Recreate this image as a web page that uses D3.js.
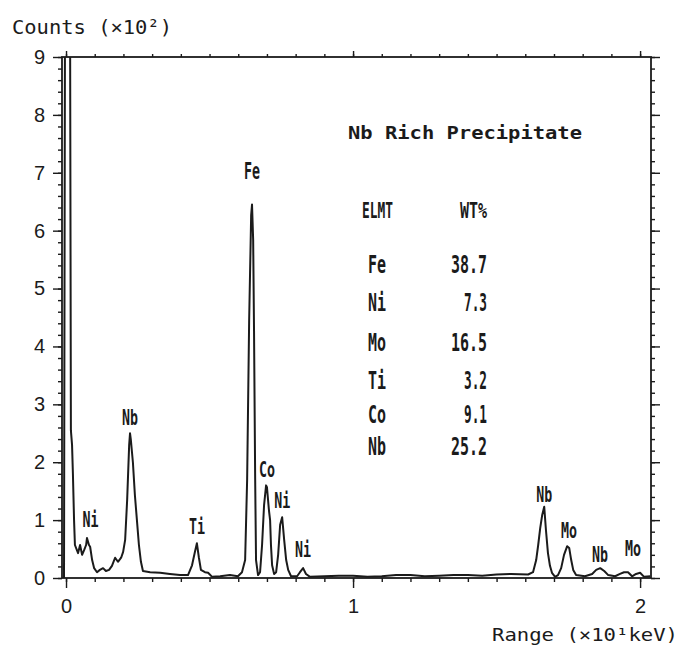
<!DOCTYPE html>
<html>
<head>
<meta charset="utf-8">
<script src="https://cdn.jsdelivr.net/npm/d3@7"></script>
<style>
  html, body { margin: 0; padding: 0; background: #fff; }
  svg { display: block; }
</style>
</head>
<body>
<svg id="chart" width="681" height="646"></svg>
<script>
// ---- Data (energy in ×10 keV, counts in ×10²) ----
const energy = [
  -0.007, -0.0035, 0.014, 0.017, 0.021, 0.024, 0.028, 0.031, 0.038, 0.042,
  0.049, 0.056, 0.063, 0.070, 0.073, 0.080, 0.084, 0.091, 0.098, 0.108,
  0.118, 0.129, 0.139, 0.150, 0.160, 0.171, 0.181, 0.192, 0.199, 0.206,
  0.213, 0.220, 0.223, 0.226, 0.233, 0.240, 0.247, 0.254, 0.261, 0.268,
  0.293, 0.328, 0.362, 0.397, 0.425, 0.439, 0.449, 0.456, 0.463, 0.470,
  0.484, 0.495, 0.509, 0.537, 0.571, 0.599, 0.613, 0.624, 0.631, 0.638,
  0.645, 0.648, 0.652, 0.655, 0.659, 0.662, 0.669, 0.676, 0.683, 0.690,
  0.697, 0.700, 0.707, 0.711, 0.714, 0.718, 0.725, 0.732, 0.739, 0.746,
  0.753, 0.760, 0.767, 0.774, 0.784, 0.805, 0.815, 0.826, 0.836, 0.850,
  0.900, 0.950, 1.000, 1.050, 1.100, 1.150, 1.200, 1.250, 1.300, 1.350,
  1.400, 1.450, 1.500, 1.550, 1.610, 1.627, 1.638, 1.645, 1.652, 1.659,
  1.666, 1.672, 1.679, 1.686, 1.693, 1.704, 1.714, 1.725, 1.735, 1.746,
  1.753, 1.760, 1.767, 1.777, 1.808, 1.833, 1.847, 1.861, 1.875, 1.889,
  1.913, 1.930, 1.944, 1.958, 1.972, 1.986, 2.000, 2.014, 2.035
];
const counts = [
  0.00, 10.0, 10.0, 2.55, 2.30, 1.80, 1.00, 0.57, 0.48, 0.43,
  0.57, 0.40, 0.48, 0.57, 0.69, 0.57, 0.54, 0.31, 0.17, 0.10,
  0.14, 0.17, 0.12, 0.14, 0.21, 0.35, 0.28, 0.35, 0.45, 0.66,
  1.35, 2.30, 2.50, 2.38, 2.00, 1.43, 1.00, 0.57, 0.28, 0.12,
  0.10, 0.09, 0.07, 0.05, 0.05, 0.22, 0.45, 0.60, 0.35, 0.14,
  0.10, 0.09, 0.02, 0.03, 0.05, 0.03, 0.10, 0.31, 1.70, 4.45,
  6.27, 6.45, 5.84, 4.28, 1.70, 0.31, 0.05, 0.10, 0.57, 1.26,
  1.60, 1.57, 1.17, 1.00, 0.57, 0.22, 0.07, 0.10, 0.40, 0.92,
  1.05, 0.66, 0.31, 0.14, 0.03, 0.03, 0.10, 0.17, 0.07, 0.02,
  0.03, 0.04, 0.04, 0.02, 0.03, 0.05, 0.05, 0.03, 0.04, 0.05,
  0.05, 0.04, 0.06, 0.07, 0.06, 0.10, 0.31, 0.57, 0.86, 1.09,
  1.23, 0.83, 0.43, 0.21, 0.09, 0.02, 0.05, 0.17, 0.40, 0.55,
  0.52, 0.31, 0.14, 0.05, 0.03, 0.07, 0.14, 0.17, 0.12, 0.05,
  0.03, 0.07, 0.10, 0.10, 0.03, 0.07, 0.09, 0.02, 0.03
];

// Peak labels
const peakNames  = ["Ni", "Nb", "Ti", "Fe", "Co", "Ni", "Ni", "Nb", "Mo", "Nb", "Mo"];
const peakEnergy = [0.085, 0.223, 0.456, 0.648, 0.700, 0.753, 0.826, 1.666, 1.752, 1.860, 1.975];
const peakLabelY = [0.88, 2.65, 0.76, 6.90, 1.75, 1.21, 0.36, 1.32, 0.69, 0.28, 0.38];

// Composition table
const tableTitle = "Nb Rich Precipitate";
const elements = ["Fe", "Ni", "Mo", "Ti", "Co", "Nb"];
const wtPercent = ["38.7", "7.3", "16.5", "3.2", "9.1", "25.2"];

// Axis ticks
const yTickLabels = [0, 1, 2, 3, 4, 5, 6, 7, 8, 9];
const xTickLabels = [0, 1, 2];

// ---- Layout ----
const svg = d3.select("#chart");
const ink = "#1b1b1b";
const L = 62, R = 651, T = 57, B = 578;

const x = d3.scaleLinear().domain([-0.014, 2.038]).range([L, R]);
const y = d3.scaleLinear().domain([0, 9]).range([B, T]);

svg.append("defs").append("clipPath").attr("id", "plotclip")
  .append("rect").attr("x", L).attr("y", T).attr("width", R - L).attr("height", B - T);

const minorY = d3.range(0, 9.001, 0.2).map(v => +v.toFixed(1));
const minorX = d3.range(0, 2.0001, 0.1).map(v => +v.toFixed(1));

function styleAxis(g) {
  g.selectAll("path.domain").remove();
  g.selectAll("line").attr("stroke", ink).attr("stroke-width", 1.4);
}

// Left axis
svg.append("g").attr("transform", `translate(${L},0)`)
  .call(d3.axisLeft(y).tickValues(minorY).tickSize(4).tickFormat(""))
  .call(styleAxis);
const leftMajor = svg.append("g").attr("transform", `translate(${L},0)`)
  .call(d3.axisLeft(y).tickValues(yTickLabels).tickSize(9).tickPadding(8).tickFormat(d3.format("d")))
  .call(styleAxis);
leftMajor.selectAll("text")
  .attr("fill", ink).attr("font-family", "'Liberation Sans', Arial, sans-serif")
  .attr("font-size", 20);

// Right axis
svg.append("g").attr("transform", `translate(${R},0)`)
  .call(d3.axisRight(y).tickValues(minorY).tickSize(4).tickFormat(""))
  .call(styleAxis);
svg.append("g").attr("transform", `translate(${R},0)`)
  .call(d3.axisRight(y).tickValues(yTickLabels).tickSize(9).tickFormat(""))
  .call(styleAxis);

// Bottom axis
svg.append("g").attr("transform", `translate(0,${B})`)
  .call(d3.axisBottom(x).tickValues(minorX).tickSize(4).tickFormat(""))
  .call(styleAxis);
const bottomMajor = svg.append("g").attr("transform", `translate(0,${B})`)
  .call(d3.axisBottom(x).tickValues(xTickLabels).tickSize(10).tickPadding(11).tickFormat(d3.format("d")))
  .call(styleAxis);
bottomMajor.selectAll("text")
  .attr("fill", ink).attr("font-family", "'Liberation Sans', Arial, sans-serif")
  .attr("font-size", 20);

// Top axis
svg.append("g").attr("transform", `translate(0,${T})`)
  .call(d3.axisTop(x).tickValues(minorX).tickSize(3).tickFormat(""))
  .call(styleAxis);
svg.append("g").attr("transform", `translate(0,${T})`)
  .call(d3.axisTop(x).tickValues(xTickLabels).tickSize(6).tickFormat(""))
  .call(styleAxis);

// Frame
svg.append("rect").attr("x", L).attr("y", T).attr("width", R - L).attr("height", B - T)
  .attr("fill", "none").attr("stroke", ink).attr("stroke-width", 1.8);

// Spectrum
const pts = energy.map((e, i) => [e, counts[i]]);
svg.append("path")
  .attr("clip-path", "url(#plotclip)")
  .attr("d", d3.line().x(d => x(d[0])).y(d => y(d[1]))(pts))
  .attr("fill", "none").attr("stroke", ink).attr("stroke-width", 2)
  .attr("stroke-linejoin", "round");

// Condensed label helper
function condensed(sel, txt, w, size) {
  sel.text(txt)
    .attr("font-family", "'DejaVu Sans Mono', monospace")
    .attr("font-weight", "bold")
    .attr("font-size", size)
    .attr("fill", ink)
    .attr("textLength", w)
    .attr("lengthAdjust", "spacingAndGlyphs");
}

// Peak labels
peakNames.forEach((n, i) => {
  const t = svg.append("text")
    .attr("x", x(peakEnergy[i]))
    .attr("y", y(peakLabelY[i]))
    .attr("text-anchor", "middle");
  condensed(t, n, 16, n === "Fe" ? 23 : 21);
});

// Title
svg.append("text")
  .attr("x", 348).attr("y", 139)
  .attr("font-family", "'DejaVu Sans Mono', monospace")
  .attr("font-weight", "bold").attr("font-size", 17).attr("fill", ink)
  .attr("textLength", 234).attr("lengthAdjust", "spacingAndGlyphs")
  .text(tableTitle);

// Table headers
condensed(svg.append("text").attr("x", 362).attr("y", 218), "ELMT", 31, 22);
condensed(svg.append("text").attr("x", 487).attr("y", 218).attr("text-anchor", "end"), "WT%", 27, 22);

const rowY = [273, 311, 351, 389, 423, 455];
elements.forEach((el, i) => {
  condensed(svg.append("text").attr("x", 368).attr("y", rowY[i]), el, 18, 25);
  const v = wtPercent[i];
  condensed(svg.append("text").attr("x", 487).attr("y", rowY[i]).attr("text-anchor", "end"),
            v, v.length === 4 ? 36 : 23, 25);
});

// Axis titles
svg.append("text").attr("x", 12).attr("y", 34)
  .attr("font-family", "'DejaVu Sans Mono', monospace").attr("font-size", 20).attr("fill", ink)
  .attr("textLength", 160).attr("lengthAdjust", "spacingAndGlyphs")
  .text("Counts (×10²)");
svg.append("text").attr("x", 492).attr("y", 641)
  .attr("font-family", "'DejaVu Sans Mono', monospace").attr("font-size", 17).attr("fill", ink)
  .attr("textLength", 186).attr("lengthAdjust", "spacingAndGlyphs")
  .text("Range (×10¹keV)");
</script>
</body>
</html>
